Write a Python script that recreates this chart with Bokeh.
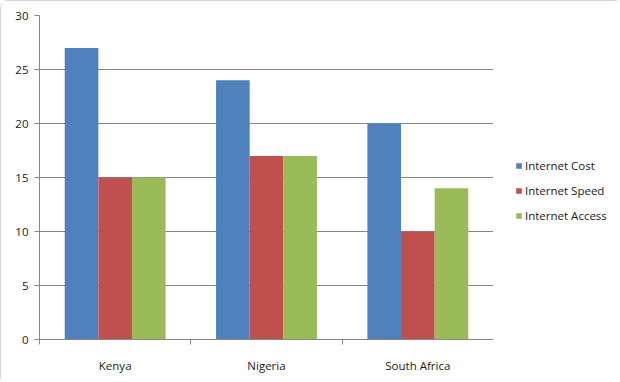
from bokeh.plotting import figure
from bokeh.layouts import row
from bokeh.models import ColumnDataSource, FixedTicker, Legend, LegendItem
from bokeh.transform import dodge
from bokeh.embed import file_html
from bokeh.resources import INLINE

categories = ["Kenya", "Nigeria", "South Africa"]
internet_cost = [27, 24, 20]
internet_speed = [15, 17, 10]
internet_access = [15, 17, 14]
series_names = ["Internet Cost", "Internet Speed", "Internet Access"]
colors = ["#4F81BD", "#C0504D", "#9BBB59"]
y_ticks = [0, 5, 10, 15, 20, 25, 30]

centers = [i + 0.5 for i in range(len(categories))]
source = ColumnDataSource(dict(x=centers, cost=internet_cost, speed=internet_speed, access=internet_access))

FONT = "Open Sans"
p = figure(width=492, height=382, output_backend="svg", toolbar_location=None,
           x_range=(0, 3), y_range=(0, 30),
           min_border_left=38, min_border_right=0, min_border_top=14, min_border_bottom=44)
p.outline_line_color = None
p.background_fill_color = "white"
p.border_fill_color = "white"

bw = 1 / 4.5
cols = ["cost", "speed", "access"]
offsets = [-bw, 0, bw]
for col, off, c in zip(cols, offsets, colors):
    p.vbar(x=dodge("x", off, range=p.x_range), top=col, width=bw, source=source,
           fill_color=c, line_color=None)

# axes
p.xaxis.ticker = FixedTicker(ticks=centers, minor_ticks=[0, 1, 2, 3])
p.xaxis.major_label_overrides = {c: n for c, n in zip(centers, categories)}
p.xaxis.major_tick_out = 0
p.xaxis.major_tick_in = 0
p.xaxis.minor_tick_out = 5
p.xaxis.minor_tick_in = 0
p.xaxis.minor_tick_line_color = "#868686"
p.xaxis.major_label_standoff = 13
p.xaxis.axis_line_color = "#868686"

p.yaxis.ticker = FixedTicker(ticks=y_ticks)
p.yaxis.major_tick_out = 5
p.yaxis.major_tick_in = 0
p.yaxis.minor_tick_line_color = None
p.yaxis.major_tick_line_color = "#868686"
p.yaxis.axis_line_color = "#868686"
p.yaxis.major_label_standoff = 6

for ax in (p.xaxis, p.yaxis):
    ax.major_label_text_font = FONT
    ax.major_label_text_font_size = "11.5px"
    ax.major_label_text_color = "#1a1a1a"

p.xgrid.grid_line_color = None
p.ygrid.grid_line_color = "#868686"
p.ygrid.ticker = FixedTicker(ticks=y_ticks)

# legend panel (separate figure on the right); its bars lie outside its view
lp = figure(width=128, height=382, output_backend="svg", toolbar_location=None,
            x_range=(100, 101), y_range=(200, 201),
            min_border_left=0, min_border_right=0, min_border_top=0, min_border_bottom=0)
lp.axis.visible = False
lp.grid.visible = False
lp.outline_line_color = None
lp.border_fill_color = "white"
lp.background_fill_color = "white"
leg_renderers = [lp.vbar(x=dodge("x", off, range=lp.x_range), top=col, width=bw, source=source,
                         fill_color=c, line_color=None)
                 for col, off, c in zip(cols, offsets, colors)]
legend = Legend(items=[LegendItem(label=n, renderers=[r]) for n, r in zip(series_names, leg_renderers)],
                location=(22, 116), padding=0, margin=0, spacing=10,
                glyph_width=7, glyph_height=7, label_height=14, label_standoff=3,
                label_text_font=FONT, label_text_font_size="11.5px", label_text_color="#1a1a1a",
                border_line_color=None, background_fill_alpha=0)
lp.add_layout(legend, "center")

layout = row(p, lp)
layout.styles = {"border": "1px solid #d4d4d4", "border-radius": "8px"}

open("out.html", "w").write(file_html(layout, INLINE))
